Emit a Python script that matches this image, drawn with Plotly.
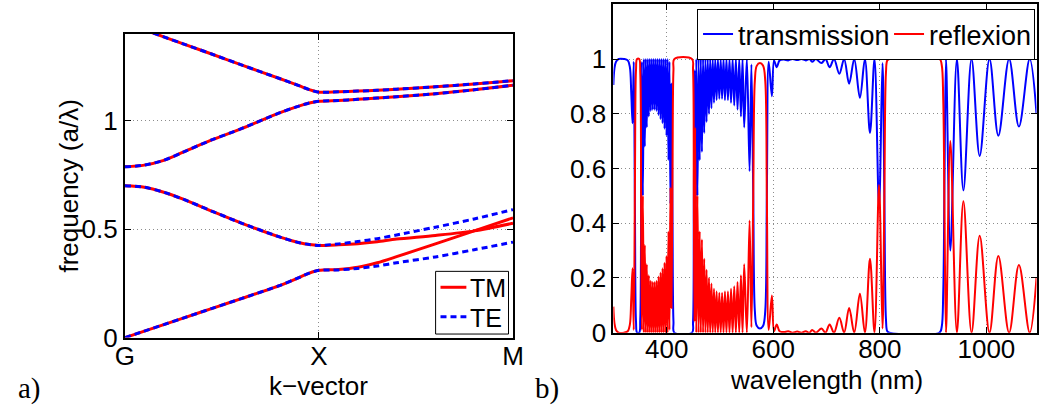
import plotly.graph_objects as go

# positions below are read in reference pixels (1048 x 405); the captured page comes out
# about 3% shorter than it is laid out, so the figure is laid out 418px tall and every
# vertical position is given as a fraction of the 405px reference height
REF_W, REF_H = 1048, 405
FIG_H = 418


def fx(x):
    return x / REF_W


def fy(y):
    return 1 - y / REF_H


# ---- panel a): band diagram (G -> X -> M) ----
k_gx = [0, 0.1, 0.2, 0.3, 0.45, 0.6, 0.8, 0.9, 0.95, 1.0]
band1_gx = [0, 0.030, 0.060, 0.090, 0.135, 0.180, 0.241, 0.278, 0.297, 0.310]
band2_gx = [0.700, 0.693, 0.670, 0.638, 0.582, 0.528, 0.463, 0.437, 0.429, 0.425]
band3_gx = [0.787, 0.795, 0.817, 0.855, 0.912, 0.963, 1.037, 1.068, 1.081, 1.089]
band4_gx = [1.449, 1.418, 1.386, 1.354, 1.306, 1.257, 1.193, 1.160, 1.143, 1.131]

k_xm = [1.0, 1.1, 1.2, 1.3, 1.4, 1.6, 1.8, 2.0]
tm_band1_xm = [0.310, 0.314, 0.324, 0.345, 0.373, 0.432, 0.492, 0.552]
te_band1_xm = [0.310, 0.312, 0.319, 0.330, 0.345, 0.372, 0.405, 0.440]
tm_band2_xm = [0.425, 0.428, 0.433, 0.442, 0.454, 0.471, 0.492, 0.527]
te_band2_xm = [0.425, 0.432, 0.443, 0.456, 0.473, 0.509, 0.547, 0.590]
band3_xm = [1.089, 1.093, 1.098, 1.104, 1.110, 1.124, 1.142, 1.163]
band4_xm = [1.131, 1.133, 1.136, 1.140, 1.145, 1.156, 1.169, 1.184]

# ---- panel b): spectra ----
wavelength = [300, 302, 305, 310, 320, 327, 331, 333.5, 336, 338.2, 340.5, 342.5, 344.5, 348.5,
              350.5, 352.2, 353.6, 355.4, 357.2, 359.0, 360.9, 362.7, 364.6, 366.4, 368.3, 370.1,
              372.0, 373.8, 375.7, 377.5, 379.4, 381.2, 383.1, 384.9, 386.8, 388.6, 390.5, 392.3,
              394.2, 396.0, 397.9, 399.7, 401.6, 403.4, 405.3, 407.1, 409.0, 411.0, 412.8, 414.5,
              447.5, 449.5, 451.0, 452.3, 453.5, 455.6, 457.8, 459.9, 462.0, 464.1, 466.2, 468.3,
              470.5, 472.7, 474.9, 477.1, 479.4, 481.7, 484.0, 486.4, 488.8, 491.2, 493.7, 496.2,
              498.8, 501.4, 504.0, 506.7, 509.4, 512.2, 515.0, 517.9, 520.8, 523.8, 526.8, 529.9,
              533.0, 536.2, 539.4, 542.4, 545.5, 550.5, 555.6, 559.0, 562.5, 565.5, 569.0, 575.0,
              581.0, 585.0, 588.0, 591.5, 597.5, 601.5, 606.5, 612.0, 620.0, 628.0, 636.0, 645.0,
              653.0, 661.0, 668.0, 673.0, 680.0, 690.5, 698.0, 705.8, 714.0, 724.0, 733.0, 742.4,
              752.0, 762.6, 772.0, 781.5, 790.0, 798.5, 805.0, 808.5, 811.5, 814.0, 818.0, 912.0,
              916.0, 919.0, 921.5, 924.2, 932.3, 944.6, 956.8, 972.1, 987.4, 1005.8, 1022.4,
              1042.6, 1061.0, 1081.2, 1094.0]

transmission = [0.905, 0.965, 0.99, 1.0, 1.0, 0.995, 0.97, 0.88, 0.765, 0.99, 0.45, 0.04, 0.0, 0.0,
                0.05, 0.6, 0.99, 0.50, 1.0, 0.68, 1.0, 0.75, 1.0, 0.79, 1.0, 0.81,
                1.0, 0.815, 1.0, 0.815, 1.0, 0.81, 1.0, 0.795, 1.0, 0.78, 1.0, 0.765,
                1.0, 0.745, 1.0, 0.72, 1.0, 0.63, 0.99, 0.47, 0.91, 0.40, 0.04, 0.0,
                0.0, 0.04, 0.5, 0.96, 0.25, 1.0, 0.50, 1.0, 0.63, 1.0, 0.66, 1.0,
                0.73, 1.0, 0.77, 1.0, 0.80, 1.0, 0.82, 1.0, 0.84, 1.0, 0.85, 1.0,
                0.855, 1.0, 0.855, 1.0, 0.85, 1.0, 0.85, 1.0, 0.84, 1.0, 0.83, 1.0,
                0.815, 1.0, 0.79, 1.0, 0.75, 1.0, 0.59, 0.98, 0.5, 0.08, 0.025, 0.015,
                0.025, 0.08, 0.5, 0.99, 0.864, 0.995, 0.97, 0.995, 0.998, 0.995, 1.0, 0.996,
                1.0, 0.995, 1.0, 0.99, 1.0, 0.985, 1.0, 0.97, 1.0, 0.946, 1.0, 0.91,
                1.0, 0.858, 1.0, 0.73, 1.0, 0.46, 0.985, 0.5, 0.05, 0.005, 0.0, 0.0,
                0.02, 0.15, 0.6, 1.0, 0.30, 1.0, 0.52, 1.0, 0.646, 1.0, 0.72,
                1.0, 0.753, 1.0, 0.80]

reflexion = [0.095, 0.035, 0.01, 0.0, 0.0, 0.005, 0.03, 0.12, 0.235, 0.01, 0.55, 0.96, 1.0, 1.0,
             0.95, 0.4, 0.01, 0.50, 0.0, 0.32, 0.0, 0.25, 0.0, 0.21, 0.0, 0.19,
             0.0, 0.185, 0.0, 0.185, 0.0, 0.19, 0.0, 0.205, 0.0, 0.22, 0.0, 0.235,
             0.0, 0.255, 0.0, 0.28, 0.0, 0.37, 0.01, 0.53, 0.09, 0.60, 0.96, 1.0,
             1.0, 0.96, 0.5, 0.04, 0.75, 0.0, 0.50, 0.0, 0.37, 0.0, 0.34, 0.0,
             0.27, 0.0, 0.23, 0.0, 0.20, 0.0, 0.18, 0.0, 0.16, 0.0, 0.15, 0.0,
             0.145, 0.0, 0.145, 0.0, 0.15, 0.0, 0.15, 0.0, 0.16, 0.0, 0.17, 0.0,
             0.185, 0.0, 0.21, 0.0, 0.25, 0.0, 0.41, 0.02, 0.5, 0.92, 0.975, 0.985,
             0.975, 0.92, 0.5, 0.01, 0.136, 0.005, 0.03, 0.005, 0.002, 0.005, 0.0, 0.004,
             0.0, 0.005, 0.0, 0.01, 0.0, 0.015, 0.0, 0.03, 0.0, 0.054, 0.0, 0.09,
             0.0, 0.142, 0.0, 0.27, 0.0, 0.54, 0.015, 0.5, 0.95, 0.995, 1.0, 1.0,
             0.98, 0.85, 0.4, 0.0, 0.70, 0.0, 0.48, 0.0, 0.354, 0.0, 0.28,
             0.0, 0.247, 0.0, 0.20]

FONT = "Liberation Sans, Arial, sans-serif"
RED, BLUE = "#ff0000", "#0000ff"
TE_DASH = "6px,4px"


def band_path(gx_vals, xm_vals):
    # one band along G->X->M, None breaks between bands
    return k_gx + k_xm[1:] + [None], gx_vals + xm_vals[1:] + [None]


def polarisation(xm1, xm2):
    xs, ys = [], []
    for gx, xm in [(band1_gx, xm1), (band2_gx, xm2), (band3_gx, band3_xm), (band4_gx, band4_xm)]:
        bx, by = band_path(gx, xm)
        xs += bx
        ys += by
    return xs, ys


fig = go.Figure()

tm_x, tm_y = polarisation(tm_band1_xm, tm_band2_xm)
te_x, te_y = polarisation(te_band1_xm, te_band2_xm)
fig.add_trace(go.Scatter(x=tm_x, y=tm_y, mode="lines", name="TM", showlegend=False,
                         line=dict(color=RED, width=3, shape="spline", smoothing=0.8),
                         xaxis="x", yaxis="y"))
fig.add_trace(go.Scatter(x=te_x, y=te_y, mode="lines", name="TE", showlegend=False,
                         line=dict(color=BLUE, width=3, dash=TE_DASH, shape="spline", smoothing=0.8),
                         xaxis="x", yaxis="y"))

fig.add_trace(go.Scatter(x=wavelength, y=transmission, mode="lines", name="transmission",
                         legendwidth=146,
                         line=dict(color=BLUE, width=2, shape="spline", smoothing=1),
                         xaxis="x2", yaxis="y2"))
fig.add_trace(go.Scatter(x=wavelength, y=reflexion, mode="lines", name="reflexion",
                         legendwidth=100,
                         line=dict(color=RED, width=2, shape="spline", smoothing=1),
                         xaxis="x2", yaxis="y2"))

axis_style = dict(showline=True, linecolor="black", linewidth=2, mirror="ticks",
                  ticks="inside", ticklen=6, tickcolor="black", tickwidth=1,
                  showgrid=True, gridcolor="#8c8c8c", gridwidth=1, griddash="1px,3px",
                  zeroline=False, tickfont=dict(family=FONT, size=26, color="black"))

fig.update_layout(
    width=REF_W, height=FIG_H, autosize=False,
    margin=dict(l=0, r=0, t=0, b=0),
    paper_bgcolor="white", plot_bgcolor="white",
    showlegend=True,
    xaxis=dict(domain=[fx(117.3), fx(513.3)], range=[0, 2], tickvals=[0, 1, 2],
               ticktext=["G", "X", "M"], anchor="y", ticklabelstandoff=-6, **axis_style),
    yaxis=dict(domain=[fy(339.3), fy(34)], range=[0, 1.4], tickvals=[0, 0.5, 1],
               ticktext=["0", "0.5", "1"], anchor="x", **axis_style),
    xaxis2=dict(domain=[fx(615.7), fx(1047.5)], range=[300, 1094],
                tickvals=[400, 600, 800, 1000], anchor="y2", ticklabelstandoff=-8, **axis_style),
    yaxis2=dict(domain=[fy(334.3), fy(4.3)], range=[0, 1.2],
                tickvals=[0, 0.2, 0.4, 0.6, 0.8, 1], ticktext=["0", "0.2", "0.4", "0.6", "0.8", "1"],
                anchor="x2", **axis_style),
    legend=dict(orientation="h", x=fx(1046), y=fy(9), xanchor="right", yanchor="top",
                bgcolor="white", bordercolor="black", borderwidth=1,
                font=dict(family=FONT, size=27, color="black")),
)

# legend box of panel a), drawn in the lower right corner of the axes
fig.add_shape(type="rect", xref="paper", yref="paper", x0=fx(434.3), x1=fx(508.7),
              y0=fy(335.7), y1=fy(272.7), line=dict(color="black", width=1), fillcolor="white",
              layer="above")
for name, colour, dash, ly in [("TM", RED, "solid", 288.7), ("TE", BLUE, TE_DASH, 318.3)]:
    fig.add_shape(type="line", xref="paper", yref="paper", x0=fx(439.3), x1=fx(465.7),
                  y0=fy(ly), y1=fy(ly), line=dict(color=colour, width=3, dash=dash), layer="above")
    fig.add_annotation(text=name, x=fx(467), y=fy(ly + 1), xref="paper", yref="paper",
                       showarrow=False, xanchor="left", yanchor="middle",
                       font=dict(family=FONT, size=25, color="black"))

annots = [
    dict(text="frequency (a/λ)", x=fx(60), y=fy(186.7), textangle=-90),
    dict(text="k−vector", x=fx(315.3), y=fy(388)),
    dict(text="wavelength (nm)", x=fx(833), y=fy(382)),
]
for a in annots:
    fig.add_annotation(xref="paper", yref="paper", showarrow=False, xanchor="center",
                       yanchor="middle", font=dict(family=FONT, size=26, color="black"), **a)

for label, px in [("a)", 20), ("b)", 548)]:
    fig.add_annotation(text=label, x=fx(px), y=fy(390), xref="paper", yref="paper",
                       showarrow=False, xanchor="center", yanchor="middle",
                       font=dict(family="Liberation Serif, serif", size=29, color="black"))

# the page body keeps a default 8px margin; remove it so the figure starts at the corner
fig.write_html("out.html", config={"displayModeBar": False},
               post_script="document.body.style.margin='0';")
